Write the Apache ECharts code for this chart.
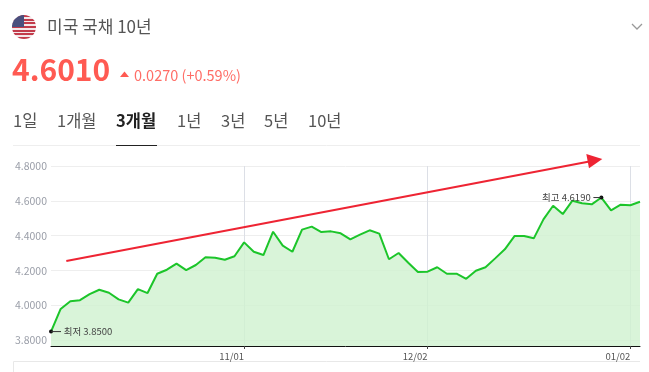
<!DOCTYPE html>
<html>
<head>
<meta charset="utf-8">
<style>html,body{margin:0;padding:0;background:#fff}#main{width:649px;height:372px}</style>
<script src="https://cdn.jsdelivr.net/npm/echarts@6/dist/echarts.min.js"></script>
</head>
<body>
<div id="main"></div>
<script>
var dates = ['10/03','10/04','10/07','10/08','10/09','10/10','10/11','10/15','10/16','10/17','10/18',
  '10/21','10/22','10/23','10/24','10/25','10/28','10/29','10/30','10/31','11/01',
  '11/04','11/05','11/06','11/07','11/08','11/12','11/13','11/14','11/15',
  '11/18','11/19','11/20','11/21','11/22','11/25','11/26','11/27','11/29','12/02',
  '12/03','12/04','12/05','12/06','12/09','12/10','12/11','12/12','12/13',
  '12/16','12/17','12/18','12/19','12/20','12/23','12/24','12/26','12/27','12/30','12/31','01/02','01/03'];
var yields = [3.85,3.98,4.024,4.03,4.065,4.09,4.073,4.035,4.016,4.094,4.071,
  4.182,4.205,4.24,4.203,4.232,4.276,4.274,4.262,4.282,4.362,
  4.308,4.289,4.423,4.343,4.308,4.435,4.452,4.421,4.425,
  4.414,4.379,4.406,4.431,4.412,4.265,4.301,4.245,4.192,4.194,
  4.219,4.182,4.182,4.153,4.199,4.219,4.27,4.322,4.398,
  4.398,4.385,4.494,4.572,4.524,4.601,4.586,4.58,4.619,4.546,4.578,4.575,4.595];
var yTicks = [3.8,4.0,4.2,4.4,4.6,4.8];
var xTicks = ['11/01','12/02','01/02'];
var tabs = ['1일','1개월','3개월','1년','3년','5년','10년'];
var tabX = [13,57,116,177,221,264,308];

var font = '"Noto Sans CJK KR","Noto Sans",sans-serif';
var red = '#ff5a52';
var minIdx = yields.indexOf(Math.min.apply(null, yields));
var maxIdx = yields.indexOf(Math.max.apply(null, yields));

function isTick(i, v) { return xTicks.indexOf(v) >= 0; }

// header bits
var gfx = [];
function txt(x, y, s, size, color, weight) {
  gfx.push({type:'text', x:x, y:y, style:{text:s, fontSize:size, fill:color, fontFamily:font, fontWeight:weight||'normal', textVerticalAlign:'middle'}});
}
// flag, 13 stripes
var stripes = [];
for (var k = 0; k < 13; k++) {
  var c = k % 2 ? '#f4e8ea' : '#c23b4b';
  stripes.push({offset:k/13,color:c},{offset:(k+1)/13,color:c});
}
gfx.push({type:'circle', shape:{cx:24,cy:27,r:12}, style:{fill:new echarts.graphic.LinearGradient(0,0,0,1,stripes)}});
gfx.push({type:'sector', shape:{cx:24,cy:27,r:12,startAngle:Math.PI,endAngle:Math.PI*1.5}, style:{fill:'#4a4f7d'}});
txt(47, 27, '미국 국채 10년', 17, '#555');
gfx.push({type:'polyline', shape:{points:[[632,24],[637,29],[642,24]]}, style:{stroke:'#999',lineWidth:1.3,fill:'none'}});
txt(12, 70, '4.6010', 30, red, 'bold');
gfx.push({type:'polygon', shape:{points:[[120,77],[129,77],[124.5,71.5]]}, style:{fill:red}});
txt(134, 75, '0.0270 (+0.59%)', 14.5, '#ff6d66');
tabs.forEach(function(t, i) {
  txt(tabX[i], 121, t, 16.5, i == 2 ? '#222' : '#555', i == 2 ? 'bold' : 'normal');
});
gfx.push({type:'line', shape:{x1:13,y1:145.5,x2:640,y2:145.5}, style:{stroke:'#eeeeee',lineWidth:1}});
gfx.push({type:'line', shape:{x1:116,y1:145.5,x2:157,y2:145.5}, style:{stroke:'#222',lineWidth:1}});
// box below chart
gfx.push({type:'polyline', shape:{points:[[13.5,372],[13.5,361.5],[640,361.5]]}, style:{stroke:'#e8e8e8',lineWidth:1,fill:'none'}});
// red annotation arrow
gfx.push({type:'line', z:20, shape:{x1:66.3,y1:261,x2:592,y2:161}, style:{stroke:'#ee2433',lineWidth:2.2}});
gfx.push({type:'polygon', z:20, shape:{points:[[586.3,154],[602.3,159],[589,168.3]]}, style:{fill:'#ee2433'}});

var chart = echarts.init(document.getElementById('main'));
chart.setOption({
  animation: false,
  backgroundColor: '#fff',
  textStyle: {fontFamily: font},
  grid: {left: 51, right: 9, top: 166, height: 180},
  xAxis: {
    type: 'category',
    boundaryGap: false,
    data: dates,
    axisLine: {lineStyle: {color: '#111', width: 1}},
    axisTick: {interval: isTick, length: 3, lineStyle: {color: '#444'}},
    splitLine: {show: true, interval: isTick, lineStyle: {color: '#dcdfe6'}},
    axisLabel: {interval: isTick, color: '#555', fontSize: 9.5, align: 'right', margin: 6}
  },
  yAxis: {
    type: 'value',
    min: 3.7673,
    max: 4.8,
    axisLine: {show: false},
    axisTick: {show: false, customValues: yTicks},
    splitLine: {lineStyle: {color: '#eeeeee'}},
    axisLabel: {customValues: yTicks, color: '#9a9ea8', fontSize: 10.5, margin: 4, formatter: function(v) { return v.toFixed(4); }}
  },
  series: [{
    type: 'line',
    data: yields,
    showSymbol: false,
    lineStyle: {color: '#1cc52a', width: 2},
    itemStyle: {color: '#1cc52a'},
    areaStyle: {color: '#cff1cf', opacity: 0.8},
    markPoint: {
      symbol: 'circle',
      symbolSize: 4,
      itemStyle: {color: '#111'},
      data: [
        {coord: [minIdx, yields[minIdx]], label: {position: 'right', distance: 0, offset: [-2, 0], formatter: '{l|} {t|최저 ' + yields[minIdx].toFixed(4) + '}',
          rich: {l: {width: 10, height: 1, backgroundColor: '#333'}, t: {fontSize: 9.5, color: '#444'}}}},
        {coord: [maxIdx, yields[maxIdx]], label: {position: 'left', distance: 0, offset: [2, 0], formatter: '{t|최고 ' + yields[maxIdx].toFixed(4) + '} {l|}',
          rich: {l: {width: 8, height: 1, backgroundColor: '#333'}, t: {fontSize: 9.5, color: '#444'}}}}
      ]
    }
  }],
  graphic: gfx
});
window.addEventListener('resize', function() { chart.resize(); });
</script>
</body>
</html>
